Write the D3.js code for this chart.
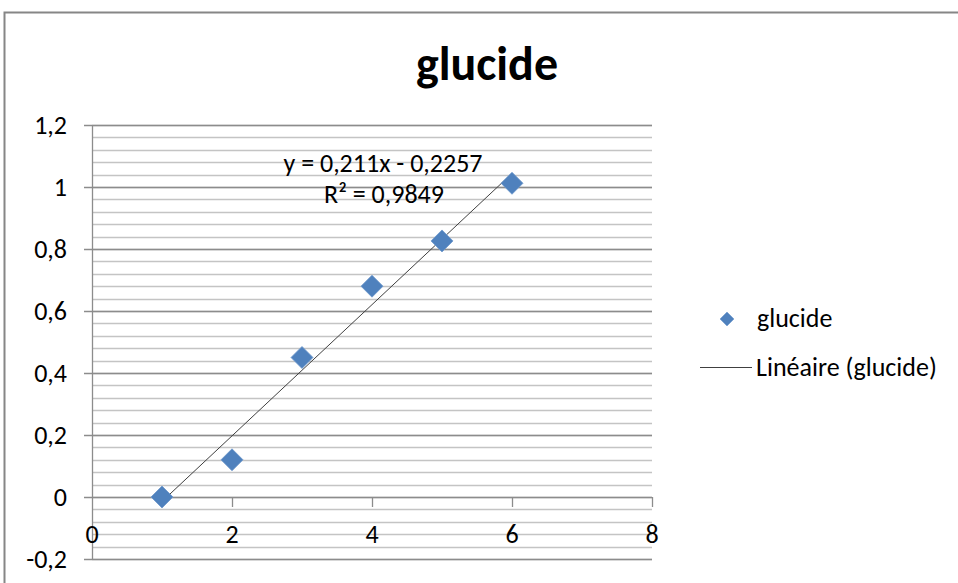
<!DOCTYPE html>
<html><head><meta charset="utf-8">
<script src="https://cdn.jsdelivr.net/npm/d3@7"></script>
<style>body{margin:0;background:#fff;} svg{display:block;}</style>
</head><body>
<script>
const xValues = [1, 2, 3, 4, 5, 6];
const yValues = [0, 0.12, 0.45, 0.68, 0.826, 1.012];
const xTicks = [0, 2, 4, 6, 8];
const yTicks = [-0.2, 0, 0.2, 0.4, 0.6, 0.8, 1, 1.2];
const titleText = "glucide";
const seriesName = "glucide";
const trendName = "Linéaire (glucide)";
const equationText = "y = 0,211x - 0,2257";
const r2Text = "R² = 0,9849";

const W = 958, H = 583;
const FONT = "Carlito, Calibri, Lato, 'Open Sans', sans-serif";
const FS = 26;
const svg = d3.select("body").append("svg").attr("width", W).attr("height", H);

svg.append("rect").attr("x", 4.5).attr("y", 12.5).attr("width", 980).attr("height", 600)
  .attr("fill", "#fff").attr("stroke", "#868686").attr("stroke-width", 2);

const x = d3.scaleLinear().domain([0, 8]).range([92, 652]);
const y = d3.scaleLinear().domain([-0.2, 1.2]).range([559, 125]);
const fmt = v => String(+v.toFixed(2)).replace(".", ",");

// minor gridlines
const minor = d3.range(-0.2, 1.2001, 0.04).map(v => +v.toFixed(2));
svg.append("g").selectAll("line").data(minor).join("line")
  .attr("x1", x(0)).attr("x2", x(8))
  .attr("y1", d => Math.round(y(d)) + 0.5).attr("y2", d => Math.round(y(d)) + 0.5)
  .attr("stroke", "#c4c4c4").attr("stroke-width", 1.3);
// major gridlines
svg.append("g").selectAll("line").data(yTicks).join("line")
  .attr("x1", x(0) - 8).attr("x2", x(8))
  .attr("y1", d => Math.round(y(d)) + 0.5).attr("y2", d => Math.round(y(d)) + 0.5)
  .attr("stroke", "#8c8c8c").attr("stroke-width", 1.3);

// y axis line
svg.append("line").attr("x1", x(0) + 0.5).attr("x2", x(0) + 0.5)
  .attr("y1", y(1.2)).attr("y2", y(-0.2)).attr("stroke", "#8c8c8c").attr("stroke-width", 1.3);
// x axis ticks at y=0
svg.append("g").selectAll("line").data(xTicks.slice(1)).join("line")
  .attr("x1", d => Math.round(x(d)) + 0.5).attr("x2", d => Math.round(x(d)) + 0.5)
  .attr("y1", y(0)).attr("y2", y(0) + 10).attr("stroke", "#8c8c8c").attr("stroke-width", 1.3);

// y tick labels
svg.append("g").selectAll("text").data(yTicks).join("text")
  .attr("x", 67).attr("y", d => y(d)).attr("dy", "0.35em")
  .attr("text-anchor", "end").attr("font-family", FONT).attr("font-size", FS).attr("fill", "#000")
  .text(d => fmt(d));
// x tick labels
svg.append("g").selectAll("text").data(xTicks).join("text")
  .attr("x", d => x(d)).attr("y", 543)
  .attr("text-anchor", "middle").attr("font-family", FONT).attr("font-size", FS).attr("fill", "#000")
  .text(d => fmt(d));

// regression from data
const mx = d3.mean(xValues), my = d3.mean(yValues);
const slope = d3.sum(xValues.map((v, i) => (v - mx) * (yValues[i] - my))) / d3.sum(xValues.map(v => (v - mx) ** 2));
const icpt = my - slope * mx;
const x0 = d3.min(xValues), x1 = d3.max(xValues);
svg.append("line").attr("x1", x(x0)).attr("y1", y(slope * x0 + icpt))
  .attr("x2", x(x1)).attr("y2", y(slope * x1 + icpt))
  .attr("stroke", "#404040").attr("stroke-width", 1);

const diamond = r => `M0,${-r}L${r},0L0,${r}L${-r},0Z`;
svg.append("g").selectAll("path").data(xValues).join("path")
  .attr("transform", (d, i) => `translate(${x(d)},${y(yValues[i])})`)
  .attr("d", diamond(11)).attr("fill", "#4F81BD").attr("stroke", "#6f98cc").attr("stroke-width", 0.8);

// equation
svg.append("text").attr("x", 383).attr("y", 172).attr("text-anchor", "middle")
  .attr("font-family", FONT).attr("font-size", FS).attr("fill", "#000").text(equationText);
svg.append("text").attr("x", 384).attr("y", 203).attr("text-anchor", "middle")
  .attr("font-family", FONT).attr("font-size", FS).attr("fill", "#000").text(r2Text);

// title
svg.append("text").attr("x", 487).attr("y", 80).attr("text-anchor", "middle")
  .attr("font-family", FONT).attr("font-weight", "bold").attr("font-size", 48).attr("fill", "#000").text(titleText);

// legend
svg.append("path").attr("transform", "translate(727,319)").attr("d", diamond(7))
  .attr("fill", "#4F81BD").attr("stroke", "#6f98cc").attr("stroke-width", 0.6);
svg.append("text").attr("x", 757).attr("y", 327).attr("font-family", FONT).attr("font-size", FS).attr("fill", "#000").text(seriesName);
svg.append("line").attr("x1", 700).attr("x2", 752).attr("y1", 367.5).attr("y2", 367.5).attr("stroke", "#404040").attr("stroke-width", 1);
svg.append("text").attr("x", 756).attr("y", 376).attr("font-family", FONT).attr("font-size", FS).attr("fill", "#000").text(trendName);
</script>
</body></html>
